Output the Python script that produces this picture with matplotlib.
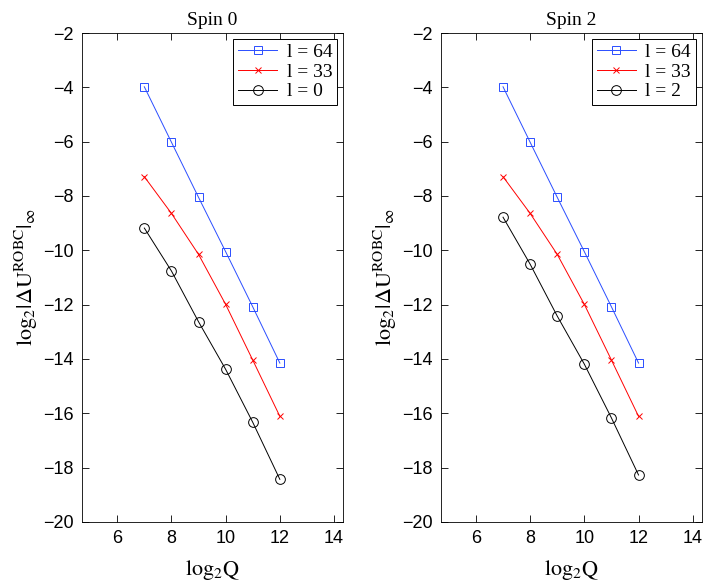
import matplotlib
matplotlib.use("Agg")
import matplotlib.pyplot as plt

plt.rcParams["mathtext.fontset"] = "stix"
plt.rcParams["font.family"] = ["Liberation Serif", "DejaVu Serif"]

log2Q = [7, 8, 9, 10, 11, 12]

# Spin 0
spin0_l64 = [-3.98, -6.02, -8.05, -10.05, -12.08, -14.15]
spin0_l33 = [-7.29, -8.64, -10.15, -11.99, -14.04, -16.11]
spin0_l0 = [-9.18, -10.76, -12.63, -14.38, -16.33, -18.43]

# Spin 2
spin2_l64 = [-3.98, -6.02, -8.05, -10.05, -12.08, -14.15]
spin2_l33 = [-7.29, -8.64, -10.15, -11.99, -14.04, -16.11]
spin2_l2 = [-8.78, -10.51, -12.42, -14.19, -16.17, -18.27]

panels = [
    ("Spin 0", [(spin0_l64, "l = 64"), (spin0_l33, "l = 33"), (spin0_l0, "l = 0")]),
    ("Spin 2", [(spin2_l64, "l = 64"), (spin2_l33, "l = 33"), (spin2_l2, "l = 2")]),
]
styles = [
    dict(color="#2a4dff", marker="s", markersize=6, markerfacecolor="none"),
    dict(color="red", marker="x", markersize=5),
    dict(color="black", marker="o", markersize=7, markerfacecolor="none"),
]

fig = plt.figure(figsize=(7.07, 5.86), dpi=100)
lefts = [82 / 707, 440.7 / 707]
for left, (title, series) in zip(lefts, panels):
    ax = fig.add_axes([left, 64 / 586, 261 / 707, 489 / 586])
    for (vals, lab), st in zip(series, styles):
        ax.plot(log2Q, vals, linewidth=0.7, markeredgewidth=0.7, label=lab, **st)
    ax.set_xlim(4.7, 14.33)
    ax.set_ylim(-20, -2)
    ax.set_xticks([6, 8, 10, 12, 14])
    ax.set_yticks(range(-20, -1, 2))
    ax.tick_params(direction="in", top=True, right=True, length=5, width=0.6,
                   labelsize=13, pad=6)
    for t in ax.get_xticklabels() + ax.get_yticklabels():
        t.set_family(["Liberation Sans", "DejaVu Sans"])
    for sp in ax.spines.values():
        sp.set_linewidth(0.6)
    ax.set_title(title, fontsize=14, pad=6)
    ax.set_xlabel(r"$\mathrm{log}_2\mathrm{Q}$", fontsize=16, labelpad=8)
    ax.set_ylabel(r"$\mathrm{log}_2|\Delta \mathrm{U}^{\mathrm{ROBC}}|_\infty$",
                  fontsize=16, labelpad=2)
    leg = ax.legend(loc="upper right", fontsize=14, fancybox=False,
                    edgecolor="black", framealpha=1, borderaxespad=0.3,
                    handlelength=2.0, borderpad=0.25, labelspacing=0.1,
                    handletextpad=0.5)
    leg.get_frame().set_linewidth(0.7)

fig.savefig("out.png", dpi=100)
